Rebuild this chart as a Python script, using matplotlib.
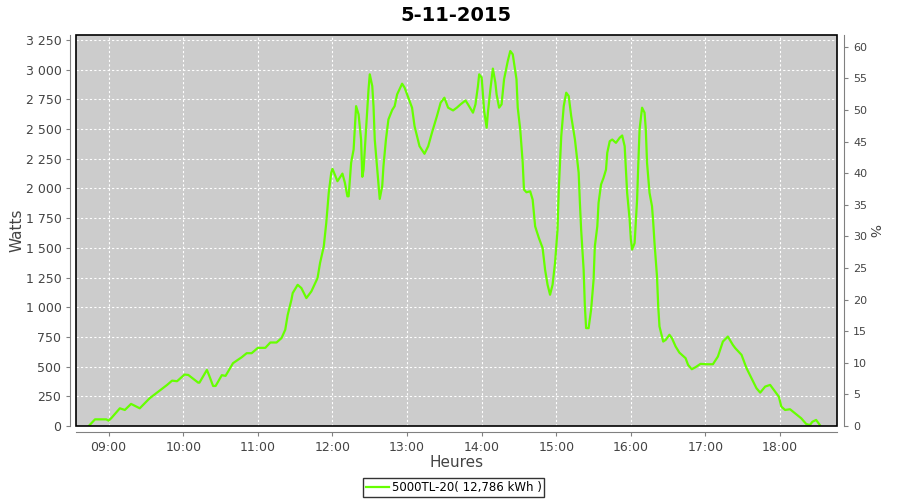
import matplotlib
matplotlib.use("Agg")
import matplotlib.pyplot as plt
from matplotlib.patches import Rectangle
from matplotlib.ticker import FuncFormatter

# inverter log, 5-11-2015
times = [
    "08:44", "08:49", "08:58", "09:00", "09:02", "09:09", "09:13", "09:18", "09:25", "09:33",
    "09:47", "09:51", "09:55", "10:01", "10:04", "10:12", "10:13", "10:19", "10:21", "10:24",
    "10:26", "10:31", "10:34", "10:40", "10:47", "10:51", "10:55", "11:00", "11:06", "11:10",
    "11:15", "11:19", "11:22", "11:24", "11:27", "11:28", "11:32", "11:35", "11:39", "11:43",
    "11:48", "11:50", "11:53", "11:55", "11:57", "11:59", "12:00", "12:04", "12:08", "12:10",
    "12:12", "12:13", "12:15", "12:17", "12:19", "12:21", "12:23", "12:24", "12:25", "12:27",
    "12:29", "12:30", "12:32", "12:33", "12:34", "12:36", "12:38", "12:40", "12:41", "12:43",
    "12:45", "12:48", "12:50", "12:52", "12:56", "12:58", "13:01", "13:04", "13:06", "13:10",
    "13:14", "13:17", "13:20", "13:24", "13:27", "13:30", "13:33", "13:37", "13:40", "13:43",
    "13:47", "13:49", "13:53", "13:55", "13:57", "13:58", "14:00", "14:02", "14:04", "14:05",
    "14:07", "14:09", "14:11", "14:12", "14:14", "14:16", "14:18", "14:21", "14:23", "14:25",
    "14:28", "14:29", "14:31", "14:33", "14:34", "14:36", "14:39", "14:41", "14:43", "14:46",
    "14:49", "14:51", "14:53", "14:55", "14:57", "14:59", "15:01", "15:02", "15:04", "15:06",
    "15:08", "15:10", "15:12", "15:15", "15:18", "15:19", "15:20", "15:22", "15:23", "15:24",
    "15:26", "15:28", "15:30", "15:31", "15:33", "15:34", "15:36", "15:38", "15:40", "15:41",
    "15:43", "15:45", "15:48", "15:51", "15:53", "15:55", "15:56", "15:57", "15:59", "16:00",
    "16:01", "16:03", "16:05", "16:06", "16:07", "16:09", "16:11", "16:12", "16:13", "16:15",
    "16:17", "16:18", "16:19", "16:21", "16:22", "16:23", "16:26", "16:28", "16:31", "16:33",
    "16:36", "16:39", "16:44", "16:46", "16:49", "16:52", "16:56", "17:01", "17:06", "17:10",
    "17:14", "17:18", "17:22", "17:24", "17:29", "17:33", "17:37", "17:41", "17:44", "17:48",
    "17:52", "17:56", "17:59", "18:01", "18:04", "18:08", "18:12", "18:17", "18:21", "18:24",
    "18:26", "18:29", "18:32",
]
watts = [
    0, 56, 56, 45, 65, 149, 135, 186, 149, 234,
    346, 382, 377, 433, 430, 365, 365, 472, 420, 337,
    337, 428, 422, 529, 579, 613, 613, 658, 658, 703,
    703, 740, 810, 936, 1063, 1119, 1189, 1161, 1077, 1133,
    1246, 1372, 1512, 1710, 1963, 2132, 2165, 2061, 2125, 2047,
    1934, 1934, 2216, 2328, 2693, 2623, 2412, 2098, 2159, 2497,
    2834, 2961, 2862, 2693, 2412, 2159, 1912, 2019, 2187, 2412,
    2581, 2660, 2693, 2792, 2882, 2849, 2764, 2680, 2525, 2356,
    2292, 2356, 2469, 2609, 2722, 2764, 2680, 2657, 2680, 2708,
    2741, 2708, 2638, 2708, 2862, 2961, 2933, 2651, 2511, 2638,
    2834, 3009, 2891, 2792, 2680, 2708, 2919, 3073, 3157, 3129,
    2919, 2680, 2497, 2216, 1991, 1968, 1976, 1906, 1681, 1583,
    1499, 1316, 1189, 1105, 1189, 1372, 1653, 1991, 2440, 2693,
    2806, 2778, 2609, 2412, 2132, 1878, 1653, 1316, 1006, 824,
    824, 978, 1231, 1512, 1681, 1878, 2033, 2089, 2159, 2300,
    2398, 2412, 2384, 2427, 2446, 2356, 2159, 1963, 1738, 1569,
    1485, 1541, 1906, 2216, 2497, 2680, 2638, 2497, 2216, 1963,
    1850, 1710, 1541, 1260, 1006, 838, 711, 725, 768, 740,
    669, 618, 571, 515, 478, 495, 523, 520, 520, 585,
    711, 753, 683, 655, 599, 487, 402, 318, 281, 332,
    346, 289, 247, 163, 135, 141, 107, 65, 17, 8,
    36, 51, 8,
]

title = "5-11-2015"
series_label = "5000TL-20( 12,786 kWh )"
hour_labels = ["09:00", "10:00", "11:00", "12:00", "13:00", "14:00", "15:00", "16:00", "17:00", "18:00"]
watt_ticks = list(range(0, 3251, 250))
pct_ticks = list(range(0, 61, 5))


def to_hours(s):
    h, m = s.split(":")
    return int(h) + int(m) / 60


x = [to_hours(t) for t in times]
hour_pos = [to_hours(t) for t in hour_labels]

axis_grey = "#808080"
text_grey = "#444444"
line_green = "#66ff00"

fig = plt.figure(figsize=(9, 5), dpi=100)
ax = fig.add_axes([76 / 900, 74 / 500, 761 / 900, 391 / 500])
ax.set_facecolor("#cccccc")

ax.plot(x, watts, color=line_green, lw=1.6, label=series_label, zorder=3)

ax.set_xlim(8.562, 18.763)
ax.set_ylim(0, 3292)
ax.set_xticks(hour_pos)
ax.set_xticklabels(hour_labels)
ax.set_yticks(watt_ticks)
ax.yaxis.set_major_formatter(FuncFormatter(lambda v, p: f"{int(v):,}".replace(",", " ")))
ax.grid(True, color="white", ls=(0, (2, 2)), lw=0.8)
ax.set_axisbelow(True)

# plot outline in black, axis lines pushed outward in grey
ax.add_patch(Rectangle((0, 0), 1, 1, transform=ax.transAxes, fill=False,
                       ec="black", lw=1.2, zorder=5, clip_on=False))
for side in ["left", "bottom"]:
    ax.spines[side].set_position(("outward", 4))
    ax.spines[side].set_color(axis_grey)
ax.spines["top"].set_visible(False)
ax.spines["right"].set_visible(False)
ax.tick_params(colors=axis_grey, labelcolor=text_grey, length=3, labelsize=9)

ax.set_ylabel("Watts", fontsize=11, color=text_grey, labelpad=1)
ax.set_xlabel("Heures", fontsize=11, color=text_grey, labelpad=1)
ax.set_title(title, fontsize=14, fontweight="bold", pad=10)

ax2 = ax.twinx()
ax2.set_ylim(0, 61.85)
ax2.set_yticks(pct_ticks)
ax2.spines["right"].set_position(("outward", 5))
ax2.spines["right"].set_color(axis_grey)
for side in ["left", "top", "bottom"]:
    ax2.spines[side].set_visible(False)
ax2.tick_params(colors=axis_grey, labelcolor=text_grey, length=3, labelsize=8)
ax2.set_ylabel("%", fontsize=10, color=text_grey, rotation=-90, va="center")
ax2.yaxis.set_label_coords(1.0473, 0.5)

leg = ax.legend(loc="upper center", bbox_to_anchor=(0.496, -0.134), frameon=True,
                fancybox=False, fontsize=8.5, handlelength=2.0, handletextpad=0.2,
                borderpad=0.25, borderaxespad=0)
leg.get_frame().set_edgecolor("black")
leg.get_frame().set_linewidth(1.0)

fig.savefig("out.png", dpi=100, facecolor="white")
